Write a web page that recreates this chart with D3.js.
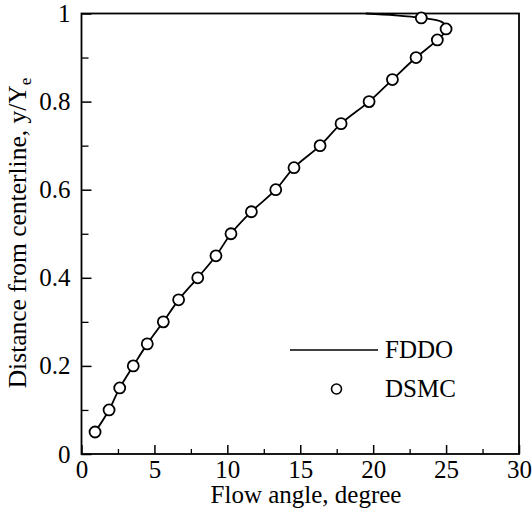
<!DOCTYPE html>
<html><head><meta charset="utf-8">
<script src="https://cdn.jsdelivr.net/npm/d3@7"></script>
<style>body{margin:0;background:#fff}svg{display:block}text{font-family:"Liberation Serif","Times New Roman",serif;fill:#000}</style>
</head><body><div id="chart"></div>
<script>
// DSMC points
const dsmcAngle = [0.93,1.89,2.62,3.55,4.51,5.61,6.66,7.97,9.22,10.25,11.65,13.32,14.57,16.36,17.8,19.72,21.32,22.94,24.4,25.0,23.3];
const dsmcY     = [0.05,0.10,0.15,0.20,0.25,0.30,0.35,0.40,0.45,0.50,0.55,0.60,0.65,0.70,0.75,0.80,0.85,0.90,0.94,0.965,0.99];
// FDDO curve
const fddoAngle = [0.93,1.89,2.62,3.55,4.51,5.61,6.66,7.97,9.22,10.25,11.65,13.32,14.57,16.36,17.8,19.72,21.32,22.94,24.4,25.05,24.7,23.3,21.5,19.5];
const fddoY     = [0.05,0.10,0.15,0.20,0.25,0.30,0.35,0.40,0.45,0.50,0.55,0.60,0.65,0.70,0.75,0.80,0.85,0.90,0.94,0.965,0.981,0.99,0.996,1.0];
const xTicks = [0,5,10,15,20,25,30];
const xMinor = [2.5,7.5,12.5,17.5,22.5,27.5];
const yTicks = [0,0.2,0.4,0.6,0.8,1];
const yMinor = [0.1,0.3,0.5,0.7,0.9];
const legendLabels = ["FDDO","DSMC"];

const W=532,H=517;
const m={l:81.5,r:13,t:13.5,b:63};
const FS=25;
const svg=d3.select("#chart").append("svg").attr("width",W).attr("height",H);
const x=d3.scaleLinear().domain([0,30]).range([m.l,W-m.r]);
const y=d3.scaleLinear().domain([0,1]).range([H-m.b,m.t]);
const g=svg.append("g");

// frame
g.append("rect").attr("x",x(0)).attr("y",y(1)).attr("width",x(30)-x(0)).attr("height",y(0)-y(1))
 .attr("fill","none").attr("stroke","#000").attr("stroke-width",1.8);

// x axis ticks inward
const xa=d3.axisBottom(x).tickValues(xTicks).tickSize(-9).tickPadding(6).tickFormat(d3.format("d"));
const gx=g.append("g").attr("transform",`translate(0,${y(0)})`).call(xa);
gx.select(".domain").remove();
gx.selectAll("line").attr("stroke-width",1.5);
gx.selectAll("text").attr("font-size",FS).attr("font-family","Liberation Serif");
const xm=d3.axisBottom(x).tickValues(xMinor).tickSize(-5).tickFormat("");
const gxm=g.append("g").attr("transform",`translate(0,${y(0)})`).call(xm);
gxm.select(".domain").remove(); gxm.selectAll("line").attr("stroke-width",1.3);

// y axis
const ya=d3.axisLeft(y).tickValues(yTicks).tickSize(-10).tickPadding(11).tickFormat(d=>d===0||d===1?String(d):d3.format(".1f")(d));
const gy=g.append("g").attr("transform",`translate(${x(0)},0)`).call(ya);
gy.select(".domain").remove();
gy.selectAll("line").attr("stroke-width",1.5);
gy.selectAll("text").attr("font-size",FS).attr("font-family","Liberation Serif");
const ym=d3.axisLeft(y).tickValues(yMinor).tickSize(-7).tickFormat("");
const gym=g.append("g").attr("transform",`translate(${x(0)},0)`).call(ym);
gym.select(".domain").remove(); gym.selectAll("line").attr("stroke-width",1.3);

// axis titles
g.append("text").attr("x",306).attr("y",503).attr("text-anchor","middle").attr("font-size",FS).text("Flow angle, degree");
const yt=g.append("text").attr("transform",`translate(26,${233}) rotate(-90)`).attr("text-anchor","middle").attr("font-size",25.5);
yt.append("tspan").text("Distance from centerline, y/Y");
yt.append("tspan").attr("font-size",17).attr("dy",5).text("e");

// FDDO line
const pts=fddoAngle.map((a,i)=>[a,fddoY[i]]);
g.append("path").datum(pts).attr("fill","none").attr("stroke","#000").attr("stroke-width",1.8)
 .attr("d",d3.line().x(d=>x(d[0])).y(d=>y(d[1])).curve(d3.curveCatmullRom));

// DSMC circles
g.selectAll("circle.d").data(dsmcAngle.map((a,i)=>[a,dsmcY[i]])).join("circle").attr("class","d")
 .attr("cx",d=>x(d[0])).attr("cy",d=>y(d[1])).attr("r",5.5)
 .attr("fill","#fff").attr("stroke","#000").attr("stroke-width",1.8);

// legend
g.append("line").attr("x1",290).attr("x2",378).attr("y1",350).attr("y2",350).attr("stroke","#000").attr("stroke-width",1.5);
g.append("text").attr("x",385).attr("y",358).attr("font-size",FS).text(legendLabels[0]);
g.append("circle").attr("cx",336.5).attr("cy",389).attr("r",5).attr("fill","#fff").attr("stroke","#000").attr("stroke-width",1.6);
g.append("text").attr("x",385).attr("y",397).attr("font-size",FS).text(legendLabels[1]);
</script></body></html>
